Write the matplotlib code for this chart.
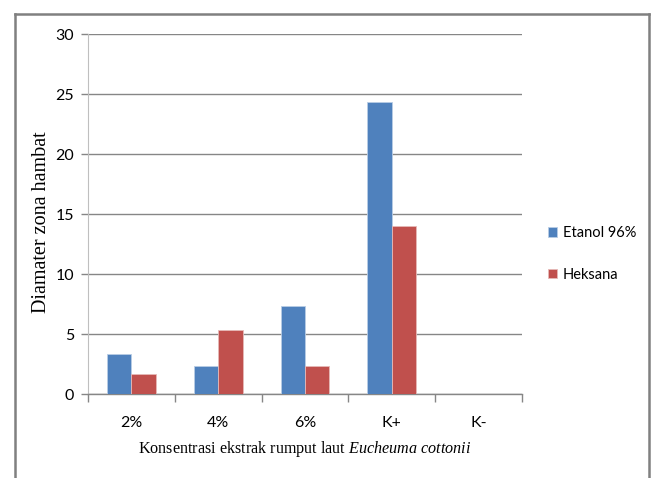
import matplotlib
matplotlib.use("Agg")
import matplotlib.pyplot as plt
import numpy as np
from matplotlib.lines import Line2D

categories = ["2%", "4%", "6%", "K+", "K-"]
etanol = [3.33, 2.33, 7.33, 24.3, 0]
heksana = [1.67, 5.3, 2.33, 14.0, 0]
series_names = ["Etanol 96%", "Heksana"]
yticks = [0, 5, 10, 15, 20, 25, 30]

plt.rcParams["mathtext.fontset"] = "custom"
plt.rcParams["mathtext.rm"] = "Liberation Serif"
plt.rcParams["mathtext.it"] = "Liberation Serif:italic"

W, H = 654, 478
fig = plt.figure(figsize=(W / 100, H / 100), dpi=100)
ax = fig.add_axes([88 / W, 1 - 394 / H, (522 - 88) / W, (394 - 34) / H])

blue = "#4F81BD"
red = "#C0504D"
x = np.arange(len(categories))
bw = 0.28
ax.bar(x - bw / 2, etanol, bw, color=blue, edgecolor="#B9CDE5", linewidth=0.6, label=series_names[0], zorder=3)
ax.bar(x + bw / 2, heksana, bw, color=red, edgecolor="#E6B9B8", linewidth=0.6, label=series_names[1], zorder=3)

ax.set_xlim(-0.5, len(categories) - 0.5)
ax.set_ylim(0, 30)
ax.yaxis.grid(True, color="#868686", linewidth=1.0)
ax.set_axisbelow(True)

tick_font = dict(family="Lato", size=11.5)
ax.set_yticks(yticks)
ax.set_yticklabels([str(v) for v in yticks], **tick_font)
ax.tick_params(axis="y", length=5, width=1, color="#868686", pad=5)

ax.set_xticks(x)
ax.set_xticklabels(categories, **tick_font)
ax.set_xticks(np.arange(-0.5, len(categories)), minor=True)
ax.tick_params(axis="x", which="major", length=0, pad=16)
ax.tick_params(axis="x", which="minor", length=6, width=1, color="#868686")

for s in ["top", "right"]:
    ax.spines[s].set_visible(False)
ax.spines["left"].set_color("#BFBFBF")
ax.spines["bottom"].set_color("#868686")
ax.spines["bottom"].set_linewidth(1.0)

fig.text(305 / W, 1 - 449 / H,
         r"Konsentrasi ekstrak rumput laut $\mathit{Eucheuma\ cottonii}$",
         family="Liberation Serif", size=11.6, ha="center", va="center")
fig.text(42 / W, 1 - 222 / H, "Diamater zona hambat", family="Liberation Serif",
         size=14.5, rotation=90, ha="center", va="center")

leg = fig.legend(loc="upper left", bbox_to_anchor=(535 / W, 1 - 213 / H),
                 frameon=False, prop=dict(family="Lato", size=10.5),
                 handlelength=0.6, handleheight=0.6, handletextpad=0.4,
                 labelspacing=1.9)

# outer chart border (bottom edge runs past the image)
c = "#808080"
fig.add_artist(Line2D([15 / W, 649 / W], [1 - 14 / H, 1 - 14 / H], color=c, lw=1.8, transform=fig.transFigure))
fig.add_artist(Line2D([15 / W, 15 / W], [0, 1 - 14 / H], color=c, lw=1.8, transform=fig.transFigure))
fig.add_artist(Line2D([649 / W, 649 / W], [0, 1 - 14 / H], color=c, lw=1.8, transform=fig.transFigure))

fig.savefig("out.png", dpi=100)
